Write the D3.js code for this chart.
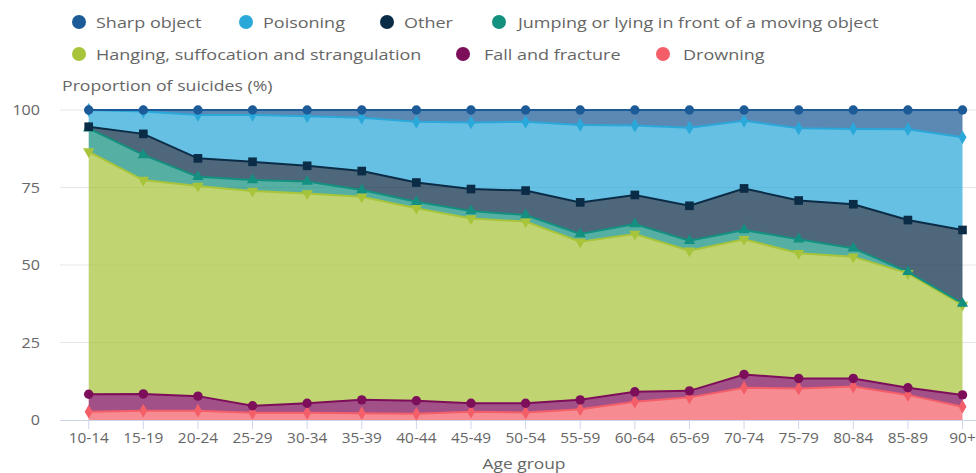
<!DOCTYPE html>
<html>
<head>
<meta charset="utf-8">
<script src="https://cdn.jsdelivr.net/npm/d3@7"></script>
<style>
  html, body { margin: 0; padding: 0; background: #ffffff; }
  svg { display: block; font-family: "Open Sans", "Noto Sans", sans-serif; }
</style>
</head>
<body>
<svg id="chart" width="976" height="473"></svg>
<script>
const categories = ["10-14","15-19","20-24","25-29","30-34","35-39","40-44","45-49","50-54","55-59","60-64","65-69","70-74","75-79","80-84","85-89","90+"];
const seriesNames = ["Sharp object","Poisoning","Other","Jumping or lying in front of a moving object","Hanging, suffocation and strangulation","Fall and fracture","Drowning"];
const sharpObject = [0.0,0.5,1.6,1.6,2.0,2.5,3.8,4.0,3.8,4.8,5.0,5.7,3.5,5.9,6.1,6.2,8.8];
const poisoning   = [5.4,7.2,14.0,15.1,16.0,17.2,19.6,21.5,22.2,25.0,22.4,25.2,21.8,23.3,24.3,29.3,29.9];
const other       = [0.5,6.8,5.9,5.9,5.1,6.1,6.2,7.1,7.9,10.2,9.4,11.3,13.4,12.5,14.2,16.7,23.7];
const jumping     = [7.5,8.1,3.0,3.5,3.8,2.2,2.1,2.4,2.1,2.5,3.2,3.2,3.0,4.5,2.7,0.5,0.5];
const hanging     = [78.3,69.0,67.8,69.3,67.7,65.5,62.1,59.6,58.6,51.0,50.9,45.2,43.6,40.4,39.3,36.9,29.0];
const fall        = [5.6,5.4,4.7,2.3,3.1,4.3,4.2,2.7,3.0,3.0,3.2,2.1,4.3,3.2,2.6,2.3,3.8];
const drowning    = [2.7,3.0,3.0,2.3,2.3,2.2,2.0,2.7,2.4,3.5,5.9,7.3,10.4,10.2,10.8,8.1,4.3];
const yTicks = [0,25,50,75,100];

const seriesValues = [sharpObject, poisoning, other, jumping, hanging, fall, drowning];
const colors = ["#1c5b97","#2ba8da","#0b2c47","#13907f","#a8c43a","#7d0e5a","#f35e68"];
const symbols = [d3.symbolCircle, d3.symbolDiamond, d3.symbolSquare, d3.symbolTriangle, "triDown", d3.symbolCircle, d3.symbolDiamond];

const svg = d3.select("#chart");

const rows = categories.map((c, i) => {
  const r = { cat: c };
  seriesNames.forEach((n, k) => r[n] = seriesValues[k][i]);
  return r;
});
const stackKeys = seriesNames.slice().reverse();
const stacked = d3.stack().keys(stackKeys)(rows);

const x = d3.scalePoint().domain(categories).range([88.7, 962.5]);
const y = d3.scaleLinear().domain([0, 100]).range([420, 110]);
const plotLeft = 60, plotRight = 976;

// helper: text stretched horizontally
function sText(g, tx, ty, str, size, sx, anchor) {
  return g.append("text")
    .attr("transform", `translate(${tx},${ty}) scale(${sx},1)`)
    .attr("text-anchor", anchor || "start")
    .attr("fill", "#666666").attr("font-size", size)
    .text(str);
}

// gridlines
svg.append("g").selectAll("line").data(yTicks.filter(t => t > 0)).join("line")
  .attr("x1", plotLeft).attr("x2", plotRight)
  .attr("y1", d => y(d)).attr("y2", d => y(d))
  .attr("stroke", "#e6e6e6").attr("stroke-width", 1);

// y labels
const yl = svg.append("g");
yTicks.forEach(t => sText(yl, 40, y(t) + 5, t, 14, 1.15, "end"));

// y title
sText(svg, 62, 91, "Proportion of suicides (%)", 14.5, 1.22);

const area = d3.area().x(d => x(d.data.cat)).y0(d => y(d[0])).y1(d => y(d[1]));
const line = d3.line().x(d => x(d.data.cat)).y(d => y(d[1]));

const layerG = svg.append("g");
stacked.forEach(layer => {
  const k = seriesNames.indexOf(layer.key);
  layerG.append("path").datum(layer).attr("d", area)
    .attr("fill", colors[k]).attr("fill-opacity", 0.72);
});
svg.append("line").attr("x1", plotLeft).attr("x2", plotRight).attr("y1", 420.5).attr("y2", 420.5)
  .attr("stroke", "#ccd6eb").attr("stroke-width", 1);
svg.append("g").selectAll("line").data(categories).join("line")
  .attr("x1", d => x(d)).attr("x2", d => x(d)).attr("y1", 420).attr("y2", 429)
  .attr("stroke", "#ccd6eb").attr("stroke-width", 1);

const lineG = svg.append("g");
stacked.forEach(layer => {
  const k = seriesNames.indexOf(layer.key);
  lineG.append("path").datum(layer).attr("d", line)
    .attr("fill", "none").attr("stroke", colors[k]).attr("stroke-width", 2);
});

function symPath(s, size) {
  if (s === "triDown") return d3.symbol(d3.symbolTriangle, size)();
  return d3.symbol(s, size)();
}
const markG = svg.append("g");
stacked.forEach(layer => {
  const k = seriesNames.indexOf(layer.key);
  const s = symbols[k];
  const size = s === d3.symbolSquare ? 75 : (s === d3.symbolCircle ? 70 : 55);
  markG.append("g").selectAll("path").data(layer).join("path")
    .attr("d", symPath(s, size))
    .attr("transform", d => `translate(${x(d.data.cat)},${y(d[1])})` + (s === "triDown" ? " rotate(180)" : ""))
    .attr("fill", colors[k]);
});

// x labels
const xl = svg.append("g");
categories.forEach(c => sText(xl, x(c), 443, c, 14, 1.1, "middle"));
sText(svg, 524, 469, "Age group", 14.5, 1.2, "middle");

// legend
const legendPos = [
  [79, 22, 17], [246, 22, 17], [387, 22, 17], [499, 22, 19],
  [79, 54, 17], [463, 54, 21], [663, 54, 20]
];
const leg = svg.append("g").selectAll("g").data(seriesNames).join("g")
  .attr("transform", (d, i) => `translate(${legendPos[i][0]},${legendPos[i][1]})`);
leg.append("circle").attr("r", 7).attr("fill", (d, i) => colors[i]);
leg.each(function(d, i) {
  sText(d3.select(this), legendPos[i][2], 5.5, d, 15, 1.2);
});
</script>
</body>
</html>
